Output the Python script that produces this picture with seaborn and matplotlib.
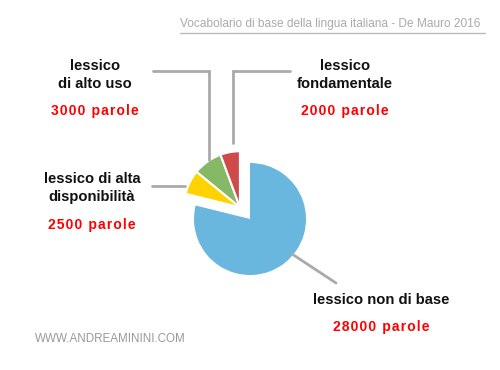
import seaborn as sns
import matplotlib.pyplot as plt

categorie = ['lessico non di base', 'lessico di alta\ndisponibilità', 'lessico\ndi alto uso', 'lessico\nfondamentale']
parole = [28000, 2500, 3000, 2000]
colori = ['#69B7DE', '#FFD200', '#86B865', '#CF4A4A']
etichette_valori = ['28000 parole', '2500 parole', '3000 parole', '2000 parole']

sns.set_theme(style='white')
plt.rcParams['font.family'] = ['Liberation Sans', 'DejaVu Sans']

fig = plt.figure(figsize=(5, 3.7), dpi=100)

# pie axes: 1 unit = 56 px, centre at (250, 219) px
r = 56
ax = fig.add_axes([(250 - 2 * r) / 500, (370 - 219 - 2 * r) / 370, 4 * r / 500, 4 * r / 370])

wedge_kw = dict(edgecolor='white', linewidth=1.5)
# big slice in place
big_cols = [colori[0], 'none', 'none', 'none']
ax.pie(parole, colors=big_cols, startangle=90, counterclock=False,
       wedgeprops=dict(linewidth=0), frame=True)
# small slices pulled out together
small_cols = ['none'] + colori[1:]
w, _ = ax.pie(parole, colors=small_cols, startangle=90, counterclock=False,
              wedgeprops=wedge_kw, center=(-0.18, 0.21), frame=True)
w[0].set_edgecolor('none')
ax.set_xlim(-2, 2)
ax.set_ylim(-2, 2)
ax.set_aspect('equal')
ax.axis('off')

# overlay for labels in pixel coords
ov = fig.add_axes([0, 0, 1, 1])
ov.set_xlim(0, 500)
ov.set_ylim(370, 0)
ov.axis('off')
ov.patch.set_alpha(0)

grigio = '#AAAAAA'
ov.plot([153, 209, 209], [71, 71, 160], color=grigio, lw=2, solid_joinstyle='miter')
ov.plot([290, 233, 233], [71, 71, 143], color=grigio, lw=2, solid_joinstyle='miter')
ov.plot([152, 185], [186, 186], color=grigio, lw=2)
ov.plot([292, 336], [254, 283], color=grigio, lw=2)


def spaziato(s):
    # letter spacing with hair spaces
    return '\u200a'.join(s)


pos = {
    categorie[2]: (95, 75, 111),
    categorie[3]: (345, 75, 111),
    categorie[1]: (92, 188, 225),
    categorie[0]: (381, 300, 327),
}
for cat, val in zip(categorie, etichette_valori):
    x, y1, y2 = pos[cat]
    ov.text(x, y1, cat, ha='center', va='center', fontsize=10.6, fontweight='bold',
            color='#111111', linespacing=1.4)
    ov.text(x, y2, spaziato(val), ha='center', va='center', fontsize=10, fontweight='bold',
            color='#FF0000')

ov.text(180, 24, 'Vocabolario di base della lingua italiana - De Mauro 2016',
        ha='left', va='center', fontsize=8.6, color='#AAAAAA')
ov.plot([180, 485], [33, 33], color='#BBBBBB', lw=1)
ov.text(35, 339, 'WWW.ANDREAMININI.COM', ha='left', va='center', fontsize=8.4,
        color='#999999')

fig.savefig('out.png', dpi=100)
